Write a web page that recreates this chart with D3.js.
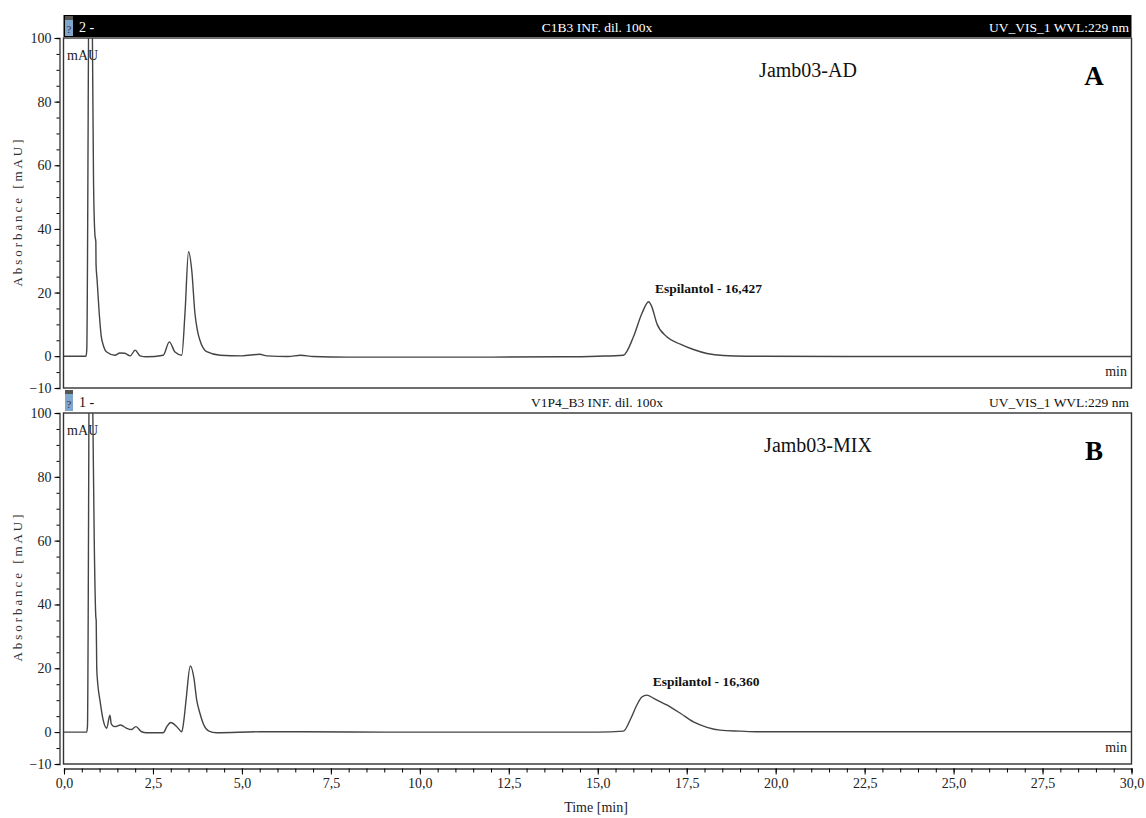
<!DOCTYPE html>
<html>
<head>
<meta charset="utf-8">
<script src="https://cdn.jsdelivr.net/npm/d3@7"></script>
<style>
  body { margin: 0; background: #fff; }
  svg text { font-family: "Liberation Serif", "Times New Roman", "DejaVu Serif", serif; }
</style>
</head>
<body>
<svg id="chart"></svg>
<script>
// Трасса A (Jamb03-AD): время, мин / поглощение, mAU
const timeA = [0, 0.62, 0.64, 0.72, 0.8, 0.83, 0.87, 0.895, 0.9, 0.93, 0.99, 1.05, 1.09, 1.2, 1.43, 1.57, 1.71, 1.86, 2.0, 2.14, 2.32,
  2.79, 2.96, 3.12, 3.31, 3.4, 3.5, 3.59, 3.68, 3.75, 3.82, 4.01, 4.39, 5.0, 5.5, 5.7, 6.3, 6.65, 7.0, 8, 10, 12, 14, 15,
  15.72, 16.0, 16.24, 16.43, 16.52, 16.66, 16.94, 17.32, 17.69, 18.07, 18.53, 19.19, 22, 26, 30];
const absA = [0, 0, 2, 150, 98, 55, 38, 36, 29, 24, 13.5, 6, 4, 1.3, 0.3, 1.0, 0.9, 0.1, 1.9, 0.1, -0.2,
  0.3, 4.5, 1.3, 0.3, 13.5, 32.8, 27, 13.4, 8, 5, 1.4, 0.3, 0.1, 0.6, 0.1, -0.1, 0.3, -0.1, -0.3, -0.3, -0.3, -0.2, 0,
  0.3, 6, 13.4, 17.1, 15.5, 10.3, 6.1, 3.8, 2.1, 0.85, 0.2, 0, -0.1, -0.1, -0.1];

// Трасса B (Jamb03-MIX)
const timeB = [0, 0.64, 0.66, 0.73, 0.81, 0.85, 0.895, 0.905, 0.92, 0.95, 1.01, 1.1, 1.2, 1.29, 1.33, 1.43, 1.59, 1.76, 1.9, 2.02,
  2.18, 2.32, 2.79, 2.89, 3.0, 3.17, 3.31, 3.37, 3.43, 3.55, 3.65, 3.73, 3.82, 3.93, 4.06, 4.29, 5.51, 6.63, 9, 12, 15,
  15.72, 15.91, 16.1, 16.24, 16.38, 16.57, 16.94, 17.32, 17.69, 18.07, 18.44, 19.0, 19.5, 30];
const absB = [0, 0, 2, 160, 100, 60, 36, 35, 20, 15, 10, 3.8, 1.2, 5.3, 2.5, 1.7, 2.2, 1.2, 0.8, 1.7,
  0.1, -0.2, -0.2, 1.7, 3.0, 1.7, 0.1, 3.8, 10, 20.7, 17, 10, 5.9, 2.2, 0.4, -0.2, 0.1, 0.1, 0, 0, 0,
  0.3, 3.8, 8.5, 11, 11.6, 10.6, 8.5, 5.9, 3.2, 1.5, 0.6, 0.3, 0.1, 0.1];

const yTicks = [-10, 0, 20, 40, 60, 80, 100];
const xTicks = [0, 2.5, 5, 7.5, 10, 12.5, 15, 17.5, 20, 22.5, 25, 27.5, 30];

const panels = [
  { id: 'A', time: timeA, abs: absA, num: '2 -', sample: 'C1B3 INF. dil. 100x', channel: 'UV_VIS_1 WVL:229 nm',
    name: 'Jamb03-AD', peakT: 16.427, peakLabel: 'Espilantol - 16,427', dark: true },
  { id: 'B', time: timeB, abs: absB, num: '1 -', sample: 'V1P4_B3 INF. dil. 100x', channel: 'UV_VIS_1 WVL:229 nm',
    name: 'Jamb03-MIX', peakT: 16.360, peakLabel: 'Espilantol - 16,360', dark: false }
];

const FONT = '"Liberation Serif", "Times New Roman", "DejaVu Serif", serif';
const width = 1146, height = 818;
const left = 63.5, right = 1131.5;
const tops = [38, 413], bottoms = [388, 764];

let svg = d3.select('#chart').attr('width', width).attr('height', height).attr('font-family', FONT);

let scX = d3.scaleLinear().domain([0, 30]).range([64, 1131.5]);

panels.forEach((p, i) => {
  let top = tops[i], bottom = bottoms[i];
  let scY = d3.scaleLinear().domain([-10, 100]).range([bottom, top]);
  let g = svg.append('g');

  // заголовок
  let barY = i == 0 ? 15 : 389;
  let barH = top - barY - 1;
  if (p.dark) {
    g.append('rect').attr('x', left).attr('y', barY).attr('width', right - left).attr('height', barH).attr('fill', '#000');
  }
  g.append('rect').attr('x', 65).attr('y', barY + 1).attr('width', 8).attr('height', barH - 2).attr('fill', '#7fa6cc');
  g.append('rect').attr('x', 65).attr('y', barY + 1).attr('width', 8).attr('height', 4).attr('fill', '#555');
  g.append('text').attr('x', 69).attr('y', barY + barH - 4).attr('text-anchor', 'middle')
    .attr('font-size', 11).attr('fill', '#333').text('?');
  let col = p.dark ? '#fff' : '#111';
  g.append('text').attr('x', 79).attr('y', barY + barH - 5).attr('font-size', 14).attr('fill', col).text(p.num);
  g.append('text').attr('x', 597).attr('y', barY + barH - 5).attr('text-anchor', 'middle')
    .attr('font-size', 13.5).attr('fill', col).text(p.sample);
  g.append('text').attr('x', 1129).attr('y', barY + barH - 5).attr('text-anchor', 'end')
    .attr('font-size', 13.5).attr('fill', col).text(p.channel);

  // рамка
  g.append('rect').attr('x', left).attr('y', top).attr('width', right - left).attr('height', bottom - top)
    .attr('fill', 'none').attr('stroke', '#333').attr('stroke-width', 1.4);

  // ось Y
  g.append('g').attr('transform', 'translate(59.5,0)')
    .call(d3.axisLeft(scY).tickValues(d3.range(-10, 101, 5)).tickSize(3).tickFormat(''))
    .call(a => a.select('.domain').attr('stroke', '#333').attr('stroke-width', 1.3));
  g.append('g').attr('transform', 'translate(59.5,0)')
    .call(d3.axisLeft(scY).tickValues(yTicks).tickSize(5).tickSizeOuter(0).tickPadding(3))
    .call(a => a.attr('font-family', FONT).select('.domain').remove())
    .call(a => a.selectAll('text').attr('font-size', 14).attr('fill', '#222'));

  g.append('text')
    .attr('transform', `translate(22,${top + 175}) rotate(-90)`)
    .attr('text-anchor', 'middle').attr('font-size', 13).attr('fill', '#333')
    .attr('textLength', 147).attr('lengthAdjust', 'spacing')
    .text('Absorbance [mAU]');

  g.append('text').attr('x', 67).attr('y', top + 22).attr('font-size', 14).attr('fill', '#222').text('mAU');
  g.append('text').attr('x', 1127).attr('y', scY(0) + 20).attr('text-anchor', 'end')
    .attr('font-size', 14).attr('fill', '#222').text('min');

  // кривая
  g.append('clipPath').attr('id', 'clip' + p.id)
    .append('rect').attr('x', left).attr('y', top).attr('width', right - left).attr('height', bottom - top);
  let pts = p.time.map((t, k) => [t, p.abs[k]]);
  let line = d3.line().x(d => scX(d[0])).y(d => scY(d[1])).curve(d3.curveMonotoneX);
  g.append('path').datum(pts).attr('d', line).attr('clip-path', `url(#clip${p.id})`)
    .attr('fill', 'none').attr('stroke', '#444').attr('stroke-width', 1.4);

  // подписи
  let peakY = d3.max(pts.filter(d => d[0] > 15), d => d[1]);
  g.append('text').attr('x', scX(p.peakT) + 60).attr('y', scY(peakY) - 9).attr('text-anchor', 'middle')
    .attr('font-size', 13.5).attr('font-weight', 'bold').attr('fill', '#111').text(p.peakLabel);
  g.append('text').attr('x', i == 0 ? 808 : 818).attr('y', top + 39).attr('text-anchor', 'middle')
    .attr('font-size', 20).attr('fill', '#111').text(p.name);
  g.append('text').attr('x', 1094).attr('y', top + 47).attr('text-anchor', 'middle')
    .attr('font-size', 27).attr('font-weight', 'bold').attr('fill', '#000').text(p.id);
});

// ось X
svg.append('g').attr('transform', 'translate(0,768.5)')
  .call(d3.axisBottom(scX).tickValues(d3.range(0, 30.01, 0.5)).tickSize(4).tickFormat(''))
  .call(a => a.select('.domain').attr('stroke', '#333').attr('stroke-width', 1.3));
svg.append('g').attr('transform', 'translate(0,768.5)')
  .call(d3.axisBottom(scX).tickValues(xTicks).tickSize(6).tickSizeOuter(0).tickPadding(4)
    .tickFormat(d => d3.format('.1f')(d).replace('.', ',')))
  .call(a => a.attr('font-family', FONT).select('.domain').remove())
  .call(a => a.selectAll('text').attr('font-size', 14).attr('fill', '#222'));

svg.append('text').attr('x', 596).attr('y', 812).attr('text-anchor', 'middle')
  .attr('font-size', 14).attr('fill', '#222').text('Time [min]');
</script>
</body>
</html>
